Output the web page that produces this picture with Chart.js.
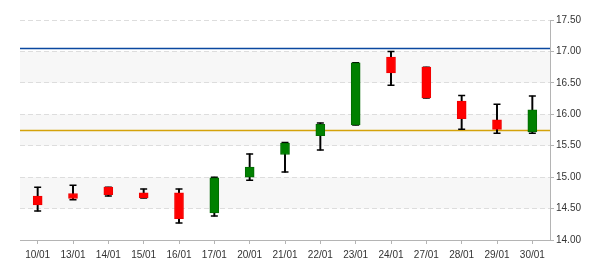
<!DOCTYPE html>
<html>
<head>
<meta charset="utf-8">
<script src="https://cdn.jsdelivr.net/npm/chart.js@4/dist/chart.umd.min.js"></script>
<style>
  html, body { margin: 0; padding: 0; background: #ffffff; }
  #wrap { width: 600px; height: 270px; position: relative; }
</style>
</head>
<body>
<div id="wrap"><canvas id="c" width="600" height="270"></canvas></div>
<script>
// ---- data ----
const labels = ['10/01','13/01','14/01','15/01','16/01','17/01','20/01','21/01','22/01','23/01','24/01','27/01','28/01','29/01','30/01'];
const openValues  = [14.70, 14.74, 14.84, 14.75, 14.75, 14.43, 15.00, 15.36, 15.66, 15.83, 16.91, 16.75, 16.21, 15.91, 15.72];
const closeValues = [14.56, 14.66, 14.72, 14.67, 14.34, 14.99, 15.16, 15.54, 15.84, 16.82, 16.66, 16.26, 15.93, 15.76, 16.07];
const highValues  = [14.84, 14.87, 14.84, 14.81, 14.81, 15.00, 15.37, 15.55, 15.86, 16.82, 17.00, 16.75, 16.30, 16.16, 16.29];
const lowValues   = [14.46, 14.64, 14.70, 14.67, 14.27, 14.38, 14.95, 15.08, 15.43, 15.83, 16.46, 16.26, 15.76, 15.70, 15.70];
const refValues   = [17.05, 15.75];
const yTickValues = [14.00, 14.50, 15.00, 15.50, 16.00, 16.50, 17.00, 17.50];

// ---- styles ----
const UP = '#008000', UP_EDGE = '#006a00';
const DOWN = '#ff0000', DOWN_EDGE = '#f00000';
const refColors = ['#0a48a0', '#d4a20a'];
const AXIS = '#b4b4b4';
const GRID = '#dddddd';
const BAND = '#f7f7f7';
const TEXT = '#333333';

const bodies = labels.map((_, i) => [openValues[i], closeValues[i]]);
const wicks = labels.map((_, i) => [lowValues[i], highValues[i]]);
const bodyFill = labels.map((_, i) => closeValues[i] >= openValues[i] ? UP : DOWN);
const bodyEdge = labels.map((_, i) => closeValues[i] >= openValues[i] ? UP_EDGE : DOWN_EDGE);

const bandsPlugin = {
  id: 'bands',
  beforeDraw(chart) {
    const { ctx, chartArea } = chart;
    const y = chart.scales.y;
    ctx.save();
    ctx.fillStyle = BAND;
    for (let i = 1; i + 1 < yTickValues.length; i += 2) {
      const top = y.getPixelForValue(yTickValues[i + 1]);
      const bot = y.getPixelForValue(yTickValues[i]);
      ctx.fillRect(chartArea.left, top, chartArea.right - chartArea.left, bot - top);
    }
    ctx.restore();
  }
};

const refLinesPlugin = {
  id: 'refLines',
  beforeDatasetsDraw(chart) {
    const { ctx, chartArea } = chart;
    const y = chart.scales.y;
    ctx.save();
    ctx.lineWidth = 1.5;
    refValues.forEach((v, i) => {
      const py = Math.round(y.getPixelForValue(v)) + 0.5;
      ctx.strokeStyle = refColors[i];
      ctx.beginPath();
      ctx.moveTo(chartArea.left, py);
      ctx.lineTo(chartArea.right, py);
      ctx.stroke();
    });
    ctx.restore();
  }
};

new Chart(document.getElementById('c'), {
  data: {
    labels: labels,
    datasets: [
      {
        type: 'bar', data: bodies, order: 0, grouped: false,
        backgroundColor: bodyFill, borderColor: bodyEdge, borderWidth: 1,
        borderSkipped: false, barThickness: 9
      },
      {
        type: 'line', data: highValues, order: 1, showLine: false,
        pointStyle: 'line', pointRadius: 3.5, pointBorderWidth: 1.5,
        pointBorderColor: '#000', pointBackgroundColor: '#000'
      },
      {
        type: 'line', data: lowValues, order: 1, showLine: false,
        pointStyle: 'line', pointRadius: 3.5, pointBorderWidth: 1.5,
        pointBorderColor: '#000', pointBackgroundColor: '#000'
      },
      {
        type: 'bar', data: wicks, order: 2, grouped: false,
        backgroundColor: '#000', borderWidth: 0, barThickness: 1.3
      }
    ]
  },
  options: {
    responsive: false,
    animation: false,
    events: [],
    layout: { padding: { left: 20, top: 20, right: 0, bottom: 0 } },
    plugins: { legend: { display: false }, tooltip: { enabled: false } },
    scales: {
      x: {
        type: 'category',
        offset: true,
        grid: { display: true, drawOnChartArea: false, drawTicks: true, tickLength: 4, tickColor: AXIS, offset: false },
        border: { display: true, color: AXIS, width: 1 },
        ticks: { color: TEXT, font: { family: '"Liberation Sans", Arial, sans-serif', size: 10 }, padding: 5, maxRotation: 0, autoSkip: false },
        afterFit(s) { s.height = 30; }
      },
      y: {
        position: 'right',
        min: 14, max: 17.5,
        afterBuildTicks(s) { s.ticks = yTickValues.map(v => ({ value: v })); },
        grid: { display: true, drawOnChartArea: true, color: GRID, tickLength: 4, tickColor: AXIS, lineWidth: 1 },
        border: { display: true, color: AXIS, width: 1, dash: [5, 3] },
        ticks: {
          color: TEXT, font: { family: '"Liberation Sans", Arial, sans-serif', size: 10 }, padding: 2,
          callback: v => Number(v).toFixed(2)
        },
        afterFit(s) { s.width = 50; }
      }
    }
  },
  plugins: [bandsPlugin, refLinesPlugin]
});
</script>
</body>
</html>
